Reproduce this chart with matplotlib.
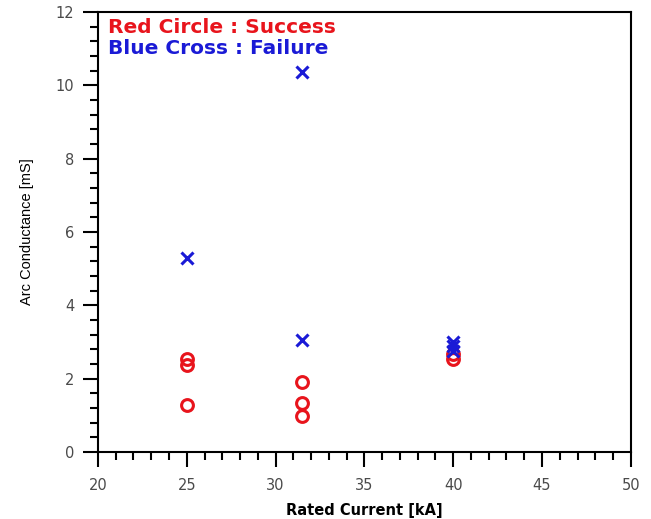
import matplotlib
matplotlib.use("Agg")
import matplotlib.pyplot as plt
from matplotlib.ticker import MultipleLocator

plt.rcParams['font.family'] = ['DejaVu Sans']

success_x = [25, 25, 25, 31.5, 31.5, 31.5, 40, 40]
success_y = [2.54, 2.37, 1.28, 1.91, 1.34, 0.98, 2.55, 2.68]
failure_x = [25, 31.5, 31.5, 40, 40, 40]
failure_y = [5.3, 10.37, 3.05, 3.0, 2.88, 2.76]

fig = plt.figure(figsize=(6.51, 5.19), dpi=100)
ax = fig.add_axes([0.1505, 0.129, 0.8185, 0.848])

ax.plot(success_x, success_y, linestyle='none', marker='o', markersize=8.5,
        markerfacecolor='none', markeredgecolor='#e8141c', markeredgewidth=2.2)
ax.plot(failure_x, failure_y, linestyle='none', marker='x', markersize=9,
        color='#1a1ad6', markeredgewidth=2.2)

ax.set_xlim(20, 50)
ax.set_ylim(0, 12)
ax.xaxis.set_major_locator(MultipleLocator(5))
ax.xaxis.set_minor_locator(MultipleLocator(1))
ax.yaxis.set_major_locator(MultipleLocator(2))
ax.yaxis.set_minor_locator(MultipleLocator(0.4))
ax.tick_params(which='major', direction='out', length=11, width=1.5,
               labelsize=10.5, labelcolor='#4a4a4a', top=False, right=False)
ax.tick_params(which='minor', direction='out', length=6, width=1.5,
               top=False, right=False)
ax.tick_params(axis='x', which='major', pad=8)
ax.tick_params(axis='y', which='major', pad=6)
for s in ax.spines.values():
    s.set_linewidth(1.5)

ax.set_xlabel('Rated Current [kA]', fontsize=10.5, fontweight='bold', labelpad=7)
ax.set_ylabel('Arc Conductance [mS]', fontsize=10.5, labelpad=16,
              family=['Liberation Sans'])

ax.text(0.018, 0.9636, 'Red Circle : Success', transform=ax.transAxes,
        color='#e8141c', fontsize=14.5, fontweight='bold', va='center', ha='left')
ax.text(0.018, 0.918, 'Blue Cross : Failure', transform=ax.transAxes,
        color='#1a1ad6', fontsize=14.5, fontweight='bold', va='center', ha='left')

fig.savefig('out.png', dpi=100)
